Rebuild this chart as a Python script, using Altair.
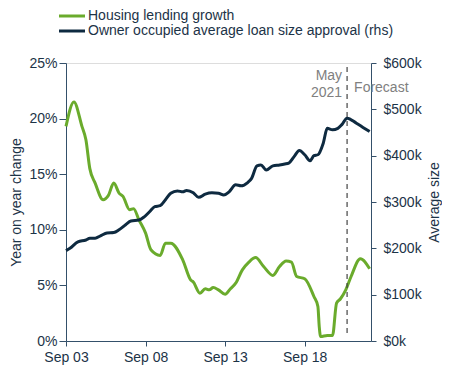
import altair as alt
import pandas as pd

# Housing lending growth (% y/y), left axis
growth_dates = ["2003-09", "2004-03", "2004-09", "2004-12", "2005-03", "2005-07", "2006-01",
                "2006-05", "2006-09", "2007-01", "2007-04", "2007-09", "2007-12", "2008-04",
                "2008-09", "2009-01", "2009-08", "2009-12", "2010-04", "2011-01", "2011-07",
                "2011-09", "2012-02", "2012-06", "2012-09", "2012-12", "2013-04", "2013-09",
                "2014-01", "2014-05", "2014-10", "2015-03", "2015-08", "2016-02", "2016-09",
                "2017-02", "2017-07", "2017-11", "2018-03", "2018-09", "2019-04", "2019-07",
                "2019-08", "2019-09", "2020-02", "2020-06", "2020-09", "2020-12", "2021-04",
                "2021-08", "2022-03", "2022-10"]
growth_values = [19.3, 21.5, 19.3, 18.1, 15.5, 14.2, 12.7,
                 13.1, 14.2, 13.3, 13.0, 11.8, 11.9, 10.9,
                 9.7, 8.2, 7.7, 8.8, 8.8, 7.3, 5.5,
                 5.3, 4.3, 4.7, 4.6, 4.8, 4.6, 4.2,
                 4.7, 5.2, 6.4, 7.1, 7.5, 6.7, 5.9,
                 6.7, 7.2, 7.1, 5.8, 5.6, 4.0, 3.1,
                 1.3, 0.4, 0.5, 0.5, 3.4, 3.8, 4.6,
                 5.8, 7.4, 6.5]

# Owner occupied average loan size approval ($k), right axis
loan_dates = ["2003-09", "2003-12", "2004-06", "2004-12", "2005-03", "2005-07", "2005-11",
              "2006-04", "2006-09", "2007-01", "2007-06", "2007-10", "2008-04", "2008-08",
              "2008-12", "2009-04", "2009-08", "2009-12", "2010-04", "2010-09", "2011-01",
              "2011-04", "2011-09", "2012-01", "2012-06", "2012-11", "2013-04", "2013-08",
              "2013-12", "2014-05", "2014-09", "2015-02", "2015-05", "2015-09", "2015-12",
              "2016-04", "2016-09", "2017-02", "2017-06", "2017-09", "2018-01", "2018-05",
              "2018-09", "2019-01", "2019-04", "2019-07", "2019-11", "2020-02", "2020-06",
              "2020-10", "2021-01", "2021-05", "2021-12", "2022-05", "2022-10"]
loan_values = [195, 200, 214, 218, 222, 222, 227,
               233, 234, 240, 251, 259, 261, 268,
               279, 290, 292, 305, 319, 324, 322,
               325, 320, 310, 317, 320, 319, 315,
               322, 337, 335, 342, 351, 378, 380,
               369, 378, 380, 382, 384, 398, 411,
               402, 389, 400, 402, 427, 459, 456,
               459, 467, 481, 470, 461, 452]

series_names = ["Housing lending growth", "Owner occupied average loan size approval (rhs)"]
series_colors = ["#6aab2c", "#0e2a40"]
forecast_date = "2021-05"
left_ticks = [0, 5, 10, 15, 20, 25]
right_ticks = [0, 100, 200, 300, 400, 500, 600]
x_tick_years = [2003, 2008, 2013, 2018]

TEXT = "#1c3347"
AXIS = "#34506a"
FONT = "Liberation Sans"

g = pd.DataFrame({"date": [d + "-01T00:00:00" for d in growth_dates],
                  "value": growth_values, "series": series_names[0]})
l = pd.DataFrame({"date": [d + "-01T00:00:00" for d in loan_dates],
                  "value": loan_values, "series": series_names[1]})

x_scale = alt.Scale(domain=[alt.DateTime(year=2003, month=9, date=1),
                            alt.DateTime(year=2022, month=11, date=1)])
x_axis = alt.Axis(values=[alt.DateTime(year=y, month=9, date=1) for y in x_tick_years],
                  format="%b %y", title=None, grid=False, tickSize=5, labelPadding=4,
                  labelFontSize=14, labelColor=TEXT, domainColor=AXIS, tickColor=AXIS,
                  labelFont=FONT, labelFlush=False)

color = alt.Color("series:N", scale=alt.Scale(domain=series_names, range=series_colors),
                  sort=series_names,
                  legend=alt.Legend(title=None, orient="none", legendX=-2, legendY=-55,
                                    symbolType="M-2,0H2", symbolSize=169, symbolStrokeWidth=3,
                                    symbolFillColor="transparent",
                                    labelFontSize=14, labelColor=TEXT, labelFont=FONT,
                                    labelLimit=400, padding=0, rowPadding=0, labelOffset=8))

left = alt.Chart(g).mark_line(strokeWidth=3, interpolate="monotone").encode(
    x=alt.X("date:T", scale=x_scale, axis=x_axis),
    y=alt.Y("value:Q", scale=alt.Scale(domain=[0, 25]),
            axis=alt.Axis(values=left_ticks, labelExpr="datum.value + '%'",
                          title="Year on year change", grid=False, tickSize=7,
                          labelPadding=2, labelFontSize=14, titleFontSize=14,
                          titleFontWeight="normal", titleColor=TEXT, labelColor=TEXT,
                          domainColor=AXIS, tickColor=AXIS, titlePadding=5,
                          labelFont=FONT, titleFont=FONT)),
    color=color,
)

right = alt.Chart(l).mark_line(strokeWidth=3, interpolate="monotone").encode(
    x=alt.X("date:T", scale=x_scale, axis=x_axis),
    y=alt.Y("value:Q", scale=alt.Scale(domain=[0, 600]),
            axis=alt.Axis(orient="right", values=right_ticks,
                          labelExpr="'$' + datum.value + 'k'",
                          title="Average size", grid=False, tickSize=5,
                          labelPadding=7, labelFontSize=14, titleFontSize=14,
                          titleFontWeight="normal", titleColor=TEXT, labelColor=TEXT,
                          domainColor=AXIS, tickColor=AXIS, titlePadding=6,
                          titleAngle=270, titleBaseline="top",
                          labelFont=FONT, titleFont=FONT)),
    color=color,
)

fc = pd.DataFrame({"date": [forecast_date + "-01T00:00:00"]})
rule = alt.Chart(fc).mark_rule(color="#444444", strokeDash=[5, 4], strokeWidth=1.2).encode(
    x=alt.X("date:T", scale=x_scale), y=alt.value(4), y2=alt.value(272))

ann = pd.DataFrame({"date": [forecast_date + "-01T00:00:00"] * 3,
                    "label": ["May", "2021", "Forecast"],
                    "pos": [17, 34, 29],
                    "side": ["l", "l", "r"]})
txt_left = alt.Chart(ann[ann.side == "l"]).mark_text(
    align="right", baseline="alphabetic", dx=-5, fontSize=14, color="#808080", font=FONT
).encode(x=alt.X("date:T", scale=x_scale), y=alt.Y("pos:Q", scale=None), text="label:N")
txt_right = alt.Chart(ann[ann.side == "r"]).mark_text(
    align="left", baseline="alphabetic", dx=7, fontSize=14, color="#808080", font=FONT
).encode(x=alt.X("date:T", scale=x_scale), y=alt.Y("pos:Q", scale=None), text="label:N")

chart = alt.layer(left, right, rule, txt_left, txt_right).resolve_scale(
    y="independent"
).properties(
    width=305, height=278,
    autosize=alt.AutoSizeParams(type="none"),
    padding={"left": 58, "top": 55, "right": 71, "bottom": 29},
).configure_view(stroke=None).configure(font=FONT)

chart.save("out.html", embed_options={"renderer": "svg", "actions": False})
